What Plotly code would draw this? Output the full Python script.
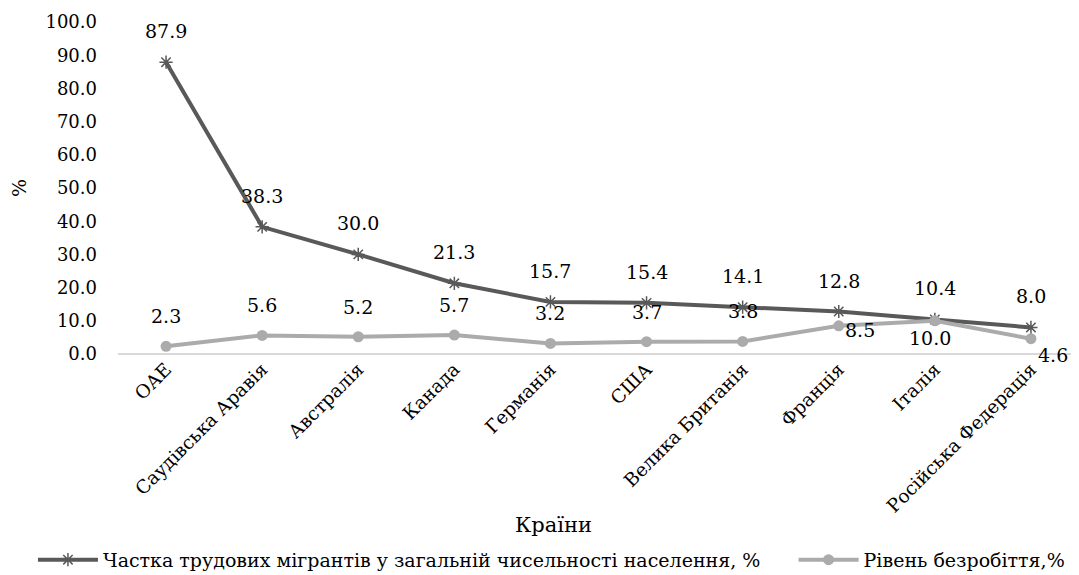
import plotly.graph_objects as go

countries = ["ОАЕ", "Саудівська Аравія", "Австралія", "Канада", "Германія", "США",
             "Велика Британія", "Франція", "Італія", "Російська Федерація"]
migrants = [87.9, 38.3, 30.0, 21.3, 15.7, 15.4, 14.1, 12.8, 10.4, 8.0]
unemployment = [2.3, 5.6, 5.2, 5.7, 3.2, 3.7, 3.8, 8.5, 10.0, 4.6]
name_migrants = "Частка трудових мігрантів у загальній чисельності населення, %"
name_unemp = "Рівень безробіття,%"

# label offsets (px) for unemployment series
unemp_shift = [(0, 30)] * 7 + [(21, -4), (-5, -17), (22, -16)]

FONT = "DejaVu Serif"
DARK = "#595959"
LIGHT = "#ABABAB"

fig = go.Figure()
fig.add_trace(go.Scatter(
    x=countries, y=migrants, name=name_migrants, mode="lines+markers",
    line=dict(color=DARK, width=4), legend="legend",
    marker=dict(symbol="asterisk-open", size=11, color=DARK, line=dict(width=1.5, color=DARK)),
))
fig.add_trace(go.Scatter(
    x=countries, y=unemployment, name=name_unemp, mode="lines+markers",
    line=dict(color=LIGHT, width=4), legend="legend2",
    marker=dict(symbol="circle", size=11, color=LIGHT),
))

annotations = []
for c, v in zip(countries, migrants):
    annotations.append(dict(x=c, y=v, text=f"{v:.1f}", showarrow=False, yshift=31,
                            font=dict(family=FONT, size=19, color="#000")))
for c, v, (dx, dy) in zip(countries, unemployment, unemp_shift):
    annotations.append(dict(x=c, y=v, text=f"{v:.1f}", showarrow=False, xshift=dx, yshift=dy,
                            font=dict(family=FONT, size=19, color="#000")))
annotations.append(dict(x=0.453, y=-0.515, xref="paper", yref="paper", text="Країни",
                        showarrow=False, yanchor="middle", xanchor="center",
                        font=dict(family=FONT, size=21, color="#000")))
fig.update_layout(annotations=annotations)

legend_style = dict(orientation="h", xanchor="left", yanchor="middle", y=-0.62,
                    font=dict(family=FONT, size=19), itemwidth=60, bgcolor="rgba(0,0,0,0)")

fig.update_layout(
    width=1071, height=567,
    margin=dict(l=110, r=0, t=14, b=221, autoexpand=False),
    paper_bgcolor="white", plot_bgcolor="white",
    font=dict(family=FONT, size=18, color="#000"),
    showlegend=True,
    legend=dict(x=-0.0885, **legend_style),
    legend2=dict(x=0.703, **legend_style),
    xaxis=dict(
        range=[-0.5, 9.5],
        tickangle=-45, showgrid=False, showline=False, zeroline=False,
        tickfont=dict(family=FONT, size=18.5), automargin=False,
    ),
    yaxis=dict(
        range=[0, 100], dtick=10, tickformat=".1f", showgrid=False,
        zeroline=True, zerolinecolor="#D9D9D9", zerolinewidth=1.5,
        showline=False, ticks="", tickfont=dict(family=FONT, size=18), automargin=False,
        ticklabelstandoff=20,
        title=dict(text="%", font=dict(family=FONT, size=19), standoff=14),
    ),
)

fig.write_html("out.html")
